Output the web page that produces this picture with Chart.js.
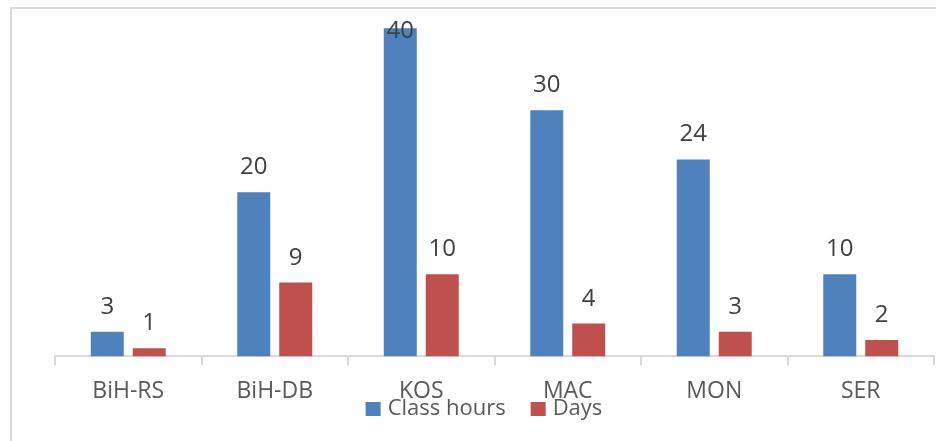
<!DOCTYPE html>
<html>
<head>
<meta charset="utf-8">
<script src="https://cdn.jsdelivr.net/npm/chart.js@4"></script>
<style>
    html, body { margin: 0; padding: 0; background: #fff; overflow: hidden; }
    #frame {
        position: absolute; left: 10px; top: 7px; width: 960px; height: 460px;
        border: 2px solid #d9d9d9; box-sizing: border-box;
    }
    #chart { position: absolute; left: 0; top: 0; }
</style>
</head>
<body>
<div id="frame"></div>
<canvas id="chart" width="936" height="441"></canvas>
<script>
// chart data
const categories = ['BiH-RS', 'BiH-DB', 'KOS', 'MAC', 'MON', 'SER'];
const classHours = [3, 20, 40, 30, 24, 10];
const days = [1, 9, 10, 4, 3, 2];
const seriesNames = ['Class hours', 'Days'];

const BLUE = '#4f81bd';
const RED = '#c0504d';
const FONT = "'Open Sans', 'Liberation Sans', sans-serif";

// value labels above each bar, kept inside the plot area at the top
const valueLabels = {
    id: 'valueLabels',
    afterDatasetsDraw(chart) {
        const ctx = chart.ctx;
        const top = chart.chartArea.top;
        ctx.save();
        ctx.font = '24px ' + FONT;
        ctx.fillStyle = '#404040';
        ctx.textAlign = 'center';
        ctx.textBaseline = 'alphabetic';
        chart.data.datasets.forEach((ds, di) => {
            chart.getDatasetMeta(di).data.forEach((bar, i) => {
                const y = Math.max(bar.y - 18, top + 18);
                ctx.fillText(String(ds.data[i]), bar.x, y);
            });
        });
        ctx.restore();
    }
};

// legend drawn under the category labels, like the original
const bottomLegend = {
    id: 'bottomLegend',
    afterDraw(chart) {
        const ctx = chart.ctx;
        const box = 15, gap = 7, spacing = 25;
        const centerX = 484, centerY = 409;
        ctx.save();
        ctx.font = '22px ' + FONT;
        const items = chart.data.datasets.map(ds => ({
            text: ds.label,
            color: ds.backgroundColor,
            w: ctx.measureText(ds.label).width
        }));
        let total = 0;
        items.forEach((it, i) => { total += box + gap + it.w + (i ? spacing : 0); });
        let x = centerX - total / 2;
        ctx.textBaseline = 'middle';
        ctx.textAlign = 'left';
        items.forEach(it => {
            ctx.fillStyle = it.color;
            ctx.fillRect(x, centerY - 7, box, 14);
            ctx.fillStyle = '#595959';
            ctx.fillText(it.text, x + box + gap, centerY);
            x += box + gap + it.w + spacing;
        });
        ctx.restore();
    }
};

new Chart(document.getElementById('chart'), {
    type: 'bar',
    data: {
        labels: categories,
        datasets: [
            {
                label: seriesNames[0],
                data: classHours,
                backgroundColor: BLUE,
                categoryPercentage: 0.573,
                barPercentage: 0.786
            },
            {
                label: seriesNames[1],
                data: days,
                backgroundColor: RED,
                categoryPercentage: 0.573,
                barPercentage: 0.786
            }
        ]
    },
    options: {
        responsive: false,
        animation: false,
        layout: {
            padding: { top: 20, left: 55, right: 2, bottom: 24 }
        },
        plugins: {
            legend: { display: false },
            tooltip: { enabled: false }
        },
        scales: {
            x: {
                grid: {
                    display: true,
                    drawOnChartArea: false,
                    drawTicks: true,
                    tickLength: 9,
                    color: '#d9d9d9',
                    lineWidth: 2
                },
                border: { color: '#d9d9d9', width: 2 },
                ticks: {
                    color: '#595959',
                    padding: 12,
                    font: { family: FONT, size: 23 }
                }
            },
            y: {
                display: false,
                min: 0,
                max: 41
            }
        }
    },
    plugins: [valueLabels, bottomLegend]
});
</script>
</body>
</html>
